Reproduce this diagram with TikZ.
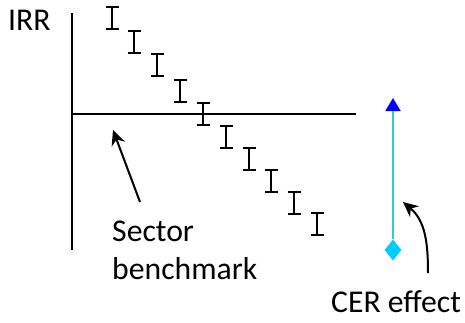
\documentclass[tikz,border=0pt]{standalone}
\usepackage{fontspec}
\setmainfont{Carlito}
\usetikzlibrary{arrows.meta,shapes.geometric}
\definecolor{cerline}{RGB}{51,204,204}
\definecolor{cerdot}{RGB}{0,204,255}
\begin{document}
\begin{tikzpicture}[x=1pt, y=-1pt, every node/.style={inner sep=0pt, font=\fontsize{31.7}{38}\selectfont}]
  \useasboundingbox (0,0) rectangle (465,322);
  \coordinate (top) at (72,13);
  \coordinate (bottom) at (72,250);
  \coordinate (bmleft) at (72,114);
  \coordinate (bmright) at (356,114);
  \draw[line width=2pt] (top) -- (bottom);
  \draw[line width=2pt] (bmleft) -- (bmright);
  % error bars
  \foreach \x/\y in {112/7,134/31,157/54,180/80,203/103,226/126,249/148,271/170,294/192,317/213} {
    \draw[line width=2pt] (\x-6.5,\y) -- ++(13,0)
      (\x,\y) -- ++(0,22)
      (\x-6.5,\y+22) -- ++(13,0);
  }
  \node[anchor=base west] (irr) at (8,30) {IRR};
  \node[anchor=north west, align=left] (sector) at (112,221) {Sector\\benchmark};
  \node[anchor=base west] (cer) at (331,312) {CER effect};
  \coordinate (sbtip) at (113,130);
  \coordinate (sbtail) at (140,202);
  \draw[line width=2pt, -{Stealth[length=15pt,width=14pt]}] (sbtail) -- (sbtip);
  \node[diamond, fill=cerdot, minimum width=17pt, minimum height=21pt] (cerbase) at (393,250) {};
  \coordinate (certop) at (393,98);
  \draw[cerline, line width=2pt, -{Triangle[length=13pt,width=15pt,color=blue]}] (cerbase.north) -- (certop);
  \coordinate (cerhead) at (403,202);
  \coordinate (certail) at (428,273);
  \draw[line width=2pt, -{Stealth[length=15pt,width=14pt]}] (certail) to[out=90,in=-40] (cerhead);
\end{tikzpicture}
\end{document}
